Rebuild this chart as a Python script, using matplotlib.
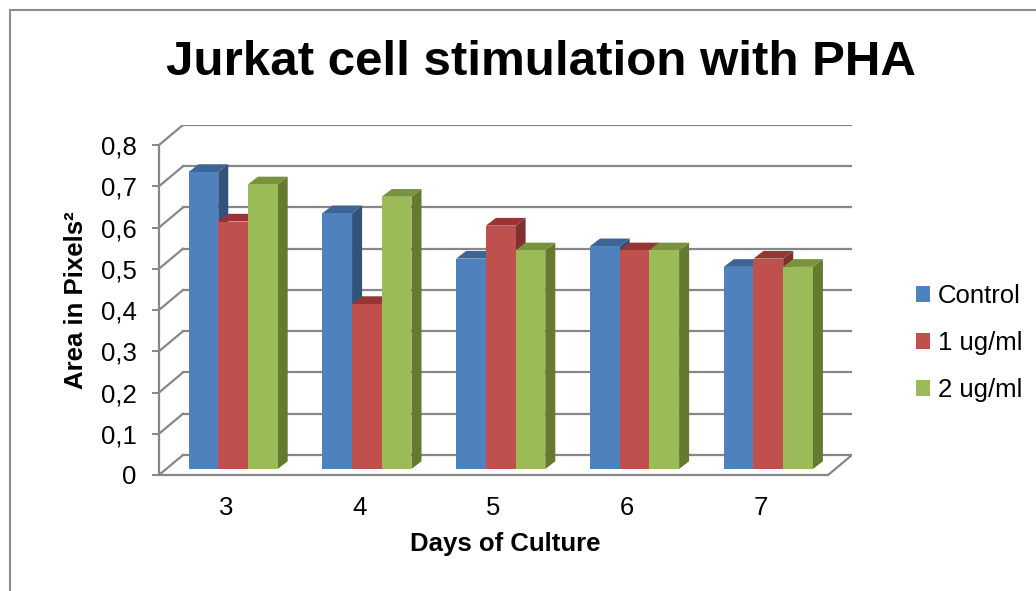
import numpy as np
import matplotlib.pyplot as plt
from matplotlib.patches import Polygon, Patch, Rectangle

plt.rcParams['font.family'] = ['Liberation Sans', 'DejaVu Sans']

# data
days = ['3', '4', '5', '6', '7']
control = [0.72, 0.62, 0.51, 0.54, 0.49]
ug1 = [0.60, 0.40, 0.59, 0.53, 0.51]
ug2 = [0.69, 0.66, 0.53, 0.53, 0.49]
series_names = ['Control', '1 ug/ml', '2 ug/ml']
yticks = [0, 0.1, 0.2, 0.3, 0.4, 0.5, 0.6, 0.7, 0.8]
ytick_labels = ['0', '0,1', '0,2', '0,3', '0,4', '0,5', '0,6', '0,7', '0,8']

# excel 2007 colours: front, top, side
front_cols = ['#4F81BD', '#C0504D', '#9BBB59']
top_cols = ['#3C6494', '#943634', '#77933C']
side_cols = ['#31527A', '#7F302E', '#65792F']
grid_col = '#878787'

# fake 3d: oblique depth vectors in data units
wall_dx, wall_dy = 0.179, 0.0485
front_dx, front_dy = 0.3 * wall_dx, 0.3 * wall_dy
bar_dx, bar_dy = 0.075, 0.0187
bar_w = 0.222

fig = plt.figure(figsize=(10.36, 5.91), dpi=100)
ax = fig.add_axes([159 / 1036, 116 / 591, (852 - 159) / 1036, 350 / 591])
ax.set_xlim(-0.5, 4.5 + wall_dx)
ax.set_ylim(0, 0.8 + wall_dy)

n = len(days)
# back wall grid + left wall diagonals
for v in yticks:
    ax.plot([-0.5 + wall_dx, n - 0.5 + wall_dx], [v + wall_dy, v + wall_dy], color=grid_col, lw=1.6, zorder=1)
    ax.plot([-0.5, -0.5 + wall_dx], [v, v + wall_dy], color=grid_col, lw=1.6, zorder=1)
# floor right edge
ax.plot([n - 0.5, n - 0.5 + wall_dx], [0, wall_dy], color=grid_col, lw=1.6, zorder=1)

x = np.arange(n)
all_series = [control, ug1, ug2]
for i in range(n):
    for j, vals in enumerate(all_series):
        h = vals[i]
        x0 = x[i] + (j - 1) * bar_w - bar_w / 2 + front_dx
        x1 = x0 + bar_w
        y0 = front_dy
        y1 = h + front_dy
        side = [(x1, y0), (x1 + bar_dx, y0 + bar_dy), (x1 + bar_dx, y1 + bar_dy), (x1, y1)]
        top = [(x0, y1), (x1, y1), (x1 + bar_dx, y1 + bar_dy), (x0 + bar_dx, y1 + bar_dy)]
        front = [(x0, y0), (x1, y0), (x1, y1), (x0, y1)]
        ax.add_patch(Polygon(side, closed=True, fc=side_cols[j], ec='none', zorder=2))
        ax.add_patch(Polygon(top, closed=True, fc=top_cols[j], ec='none', zorder=2))
        ax.add_patch(Polygon(front, closed=True, fc=front_cols[j], ec='none', zorder=2))

for s in ['top', 'right']:
    ax.spines[s].set_visible(False)
ax.spines['left'].set_bounds(0, 0.8)
ax.spines['bottom'].set_bounds(-0.5, n - 0.5)
for s in ['left', 'bottom']:
    ax.spines[s].set_color(grid_col)
    ax.spines[s].set_linewidth(1.6)
    ax.spines[s].set_zorder(3)

ax.set_yticks(yticks)
ax.set_yticklabels(ytick_labels)
ax.set_xticks(x)
ax.set_xticklabels(days)
ax.tick_params(axis='y', length=5, width=1.4, color=grid_col, pad=11, labelsize=18.5)
ax.tick_params(axis='x', length=0, pad=15, labelsize=18.5)

ax.set_ylabel('Area in Pixels²', fontsize=18.5, fontweight='bold', labelpad=9)
ax.set_xlabel('Days of Culture', fontsize=18.5, fontweight='bold', labelpad=9)
fig.text(541 / 1036, 1 - 75 / 591, 'Jurkat cell stimulation with PHA', fontsize=35.5,
         fontweight='bold', ha='center', va='baseline')

handles = [Patch(facecolor=c, edgecolor='none') for c in front_cols]
fig.legend(handles, series_names, loc='center left', bbox_to_anchor=(893 / 1036, 1 - 343 / 591),
           frameon=False, fontsize=18.5, handlelength=0.55, handleheight=0.55,
           handletextpad=0.3, labelspacing=0.9)

# chart area border (cut off at right and bottom)
fig.add_artist(Rectangle((10 / 1036, -0.1), 1.2, 1 - 10 / 591 + 0.1, transform=fig.transFigure,
                         fill=False, ec='#8c8c8c', lw=1.5))

fig.savefig('out.png', dpi=100)
